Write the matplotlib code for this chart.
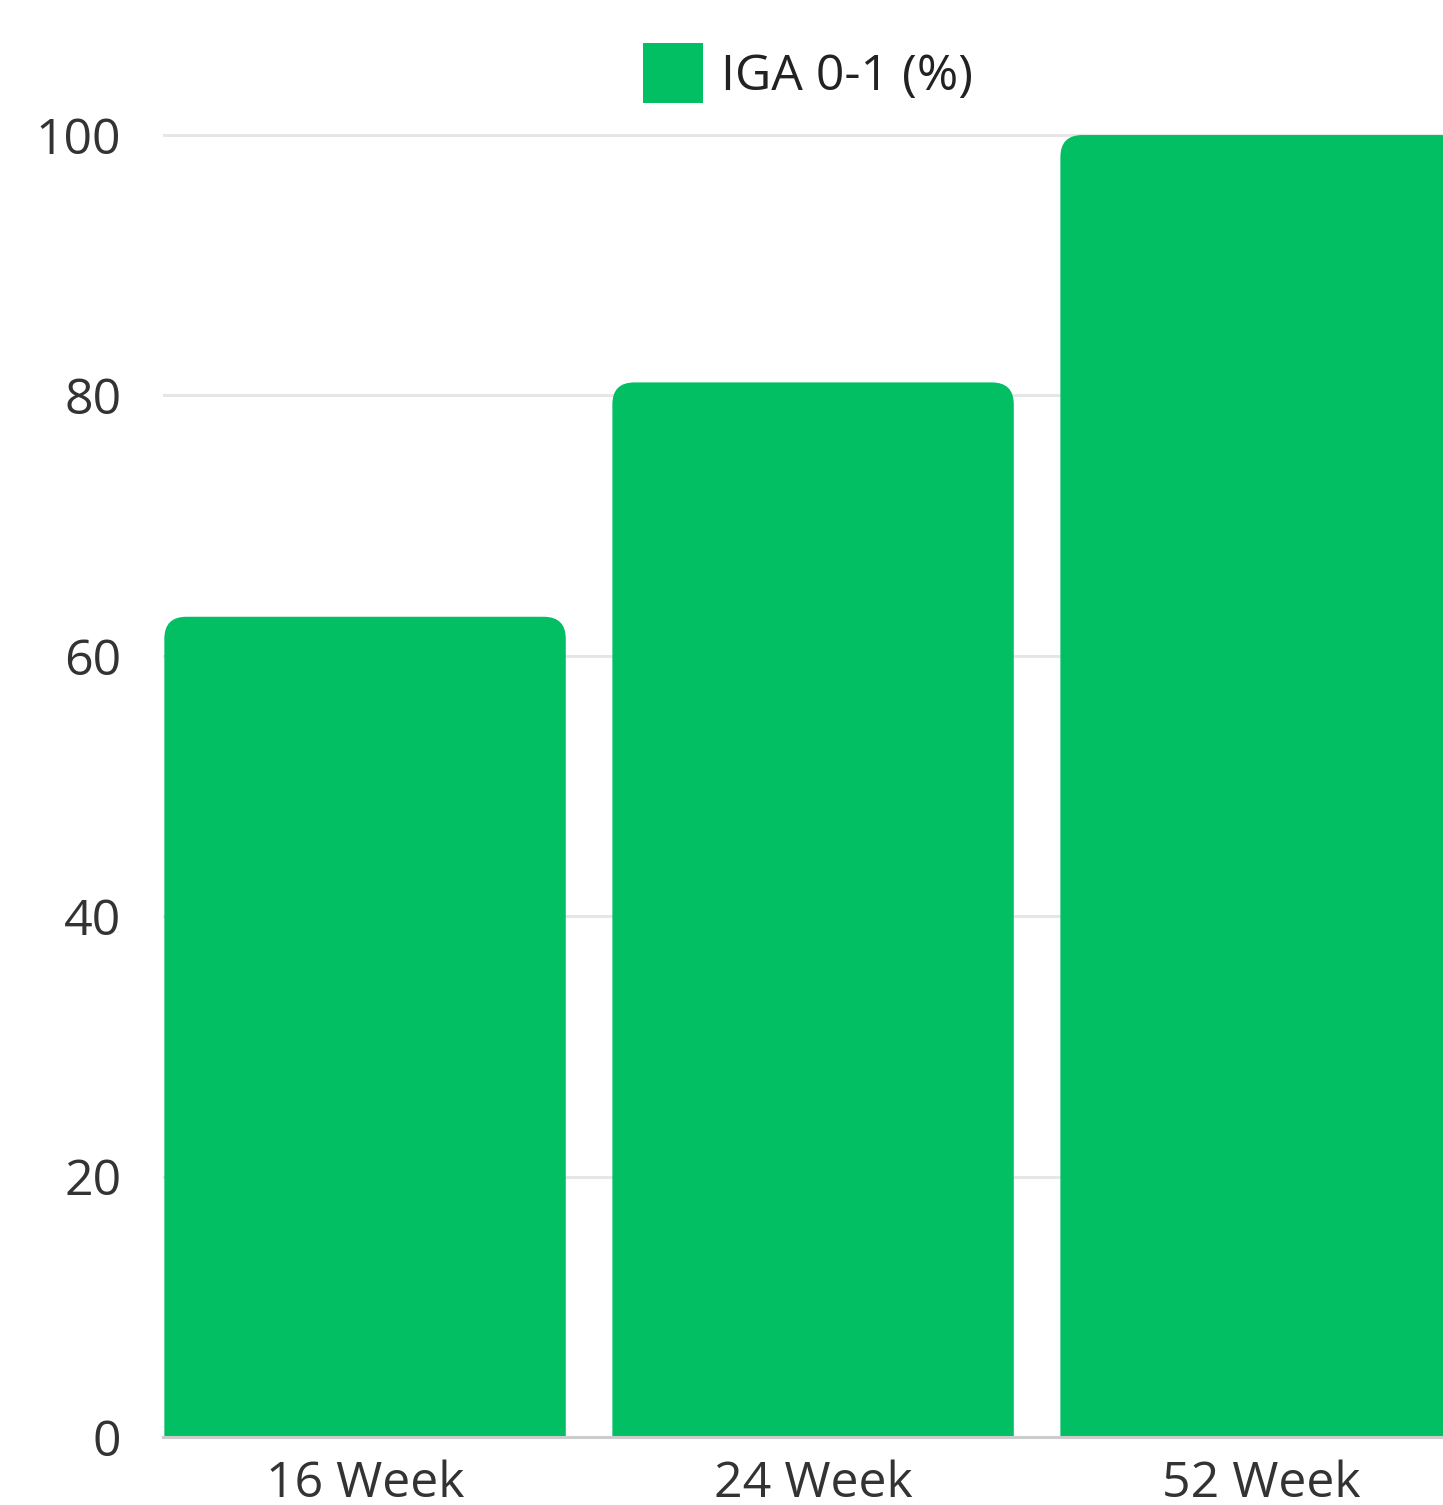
import matplotlib.pyplot as plt
from matplotlib.patches import FancyBboxPatch, Patch

# Chart data
categories = ['16 Week', '24 Week', '52 Week']
iga_values = [63, 81, 100]
y_ticks = [0, 20, 40, 60, 80, 100]
series_name = 'IGA 0-1 (%)'

BAR_COLOR = '#02bf63'
TEXT_COLOR = '#333333'

plt.rcParams['font.family'] = ['Open Sans', 'DejaVu Sans']

W, H = 1443, 1505
fig = plt.figure(figsize=(W / 100, H / 100), dpi=100)

# axes placed so that the third bar runs off the right edge, like the source
left_px, y0_px, ytop_px = 163, 68, 1396
ax = fig.add_axes([left_px / W, y0_px / H, (W - left_px) / W, (ytop_px - y0_px) / H])
ax.set_xlim(-0.451, 2.406)
ax.set_ylim(0, 102)

# rounded-top bars; the bottom corners are pushed below y=0 and clipped away
bar_width = 0.896
px_per_x = (W - left_px) / (2.406 + 0.451)
px_per_y = (ytop_px - y0_px) / 102
radius_px = 22
r_x = radius_px / px_per_x
aspect = (radius_px / px_per_y) / r_x
for i, val in enumerate(iga_values):
    box = FancyBboxPatch((i - bar_width / 2, -5), bar_width, val + 5,
                         boxstyle=f'round,pad=0,rounding_size={r_x}',
                         mutation_aspect=aspect,
                         facecolor=BAR_COLOR, edgecolor='none', zorder=2)
    ax.add_patch(box)

ax.set_yticks(y_ticks)
ax.set_xticks(range(len(categories)))
ax.set_xticklabels(categories)
ax.tick_params(axis='y', length=0, pad=30, labelsize=36, labelcolor=TEXT_COLOR)
ax.tick_params(axis='x', length=0, pad=16, labelsize=36, labelcolor=TEXT_COLOR)

ax.grid(axis='y', color='#e6e6e6', linewidth=2.2, zorder=0)
ax.set_axisbelow(True)
for side in ['top', 'right', 'left']:
    ax.spines[side].set_visible(False)
ax.spines['bottom'].set_color('#cccccc')
ax.spines['bottom'].set_linewidth(2.2)
ax.spines['bottom'].set_zorder(3)

handle = Patch(facecolor=BAR_COLOR, edgecolor='none')
fig.legend([handle], [series_name], loc='center',
           bbox_to_anchor=(808 / W, 1 - 73 / H), frameon=False,
           fontsize=36, labelcolor='#222222',
           handlelength=1.2, handleheight=1.45, handletextpad=0.36)

fig.savefig('out.png', dpi=100)
